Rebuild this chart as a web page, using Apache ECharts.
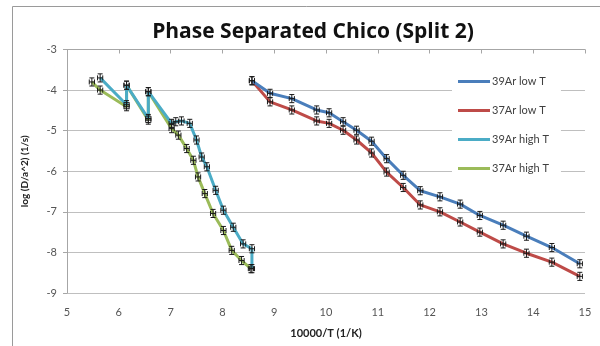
<!DOCTYPE html>
<html>
<head>
<meta charset="utf-8">
<script src="https://cdn.jsdelivr.net/npm/echarts@6/dist/echarts.min.js"></script>
<style>
  html, body { margin: 0; padding: 0; background: #fff; }
  #chart { width: 600px; height: 346px; }
</style>
</head>
<body>
<div id="chart"></div>
<script>
// values
var lowTX = [8.57, 8.92, 9.34, 9.82, 10.06, 10.33, 10.59, 10.88, 11.17, 11.49, 11.82, 12.20, 12.59, 12.97, 13.42, 13.87, 14.36, 14.90];
var ar39LowT = [-3.77, -4.08, -4.21, -4.49, -4.56, -4.78, -4.99, -5.26, -5.69, -6.10, -6.48, -6.63, -6.81, -7.09, -7.33, -7.60, -7.88, -8.28];
var ar37LowT = [-3.77, -4.29, -4.49, -4.76, -4.82, -4.99, -5.23, -5.55, -6.02, -6.40, -6.83, -7.00, -7.25, -7.50, -7.79, -8.02, -8.24, -8.59];

var ar39HighTX = [5.64, 6.15, 6.15, 6.57, 6.57, 7.02, 7.10, 7.21, 7.37, 7.50, 7.60, 7.70, 7.87, 8.02, 8.21, 8.40, 8.57, 8.57];
var ar39HighT = [-3.70, -4.36, -3.88, -4.70, -4.04, -4.82, -4.78, -4.76, -4.82, -5.23, -5.65, -5.89, -6.47, -6.96, -7.38, -7.79, -7.91, -8.40];
var ar37HighTX = [5.48, 5.64, 6.15, 6.15, 6.57, 6.57, 7.02, 7.15, 7.31, 7.44, 7.53, 7.66, 7.82, 8.02, 8.18, 8.37, 8.55];
var ar37HighT = [-3.80, -4.00, -4.41, -3.88, -4.74, -4.04, -4.95, -5.11, -5.44, -5.73, -6.14, -6.55, -7.04, -7.46, -7.95, -8.20, -8.40];

var seriesNames = ['39Ar low T', '37Ar low T', '39Ar high T', '37Ar high T'];
var seriesColors = ['#4A7EBB', '#BE4B48', '#4BACC6', '#9BBB59'];

// error bar half widths (data units)
var X_ERR = 0.05;
var Y_ERR = 0.1;

var FONT = 'Lato, "Open Sans", sans-serif';

var zip = function (xs, ys) {
  var out = [];
  for (var i = 0; i < xs.length; i++) out.push([xs[i], ys[i]]);
  return out;
};

var allData = [
  zip(lowTX, ar39LowT),
  zip(lowTX, ar37LowT),
  zip(ar39HighTX, ar39HighT),
  zip(ar37HighTX, ar37HighT)
];

var renderErrorBar = function (params, api) {
  var x = api.value(0), y = api.value(1);
  var c = api.coord([x, y]);
  var top = api.coord([x, y + Y_ERR]);
  var bot = api.coord([x, y - Y_ERR]);
  var lft = api.coord([x - X_ERR, y]);
  var rgt = api.coord([x + X_ERR, y]);
  var cap = 2.5;
  var st = { stroke: '#1a1a1a', lineWidth: 1 };
  var seg = function (x1, y1, x2, y2) {
    return { type: 'line', shape: { x1: x1, y1: y1, x2: x2, y2: y2 }, style: st };
  };
  return {
    type: 'group',
    children: [
      seg(c[0], top[1], c[0], bot[1]),
      seg(c[0] - cap, top[1], c[0] + cap, top[1]),
      seg(c[0] - cap, bot[1], c[0] + cap, bot[1]),
      seg(lft[0], c[1], rgt[0], c[1]),
      seg(lft[0], c[1] - cap, lft[0], c[1] + cap),
      seg(rgt[0], c[1] - cap, rgt[0], c[1] + cap)
    ]
  };
};

var series = [];
// draw high T first so low T sits on top like the reference
[3, 2, 1, 0].forEach(function (i) {
  series.push({
    name: seriesNames[i],
    type: 'line',
    data: allData[i],
    showSymbol: false,
    symbol: 'none',
    lineStyle: { color: seriesColors[i], width: 3 },
    itemStyle: { color: seriesColors[i] },
    z: 2
  });
  series.push({
    name: seriesNames[i] + ' err',
    type: 'custom',
    renderItem: renderErrorBar,
    encode: { x: 0, y: 1 },
    data: allData[i],
    z: 3,
    silent: true
  });
});

var chart = echarts.init(document.getElementById('chart'));
chart.setOption({
  animation: false,
  color: seriesColors,
  title: {
    text: 'Phase Separated Chico (Split 2)',
    left: 308,
    textAlign: 'center',
    top: 17,
    textStyle: { fontFamily: '"Open Sans", sans-serif', fontSize: 21, fontWeight: 'bold', color: '#111' }
  },
  graphic: [{
    type: 'rect',
    shape: { x: 12.5, y: 6.5, width: 620, height: 360 },
    style: { fill: 'none', stroke: '#9a9a9a', lineWidth: 1 },
    silent: true
  }],
  legend: {
    data: seriesNames,
    orient: 'vertical',
    left: 452,
    top: 70,
    padding: [6, 12, 6, 6],
    itemWidth: 32,
    itemHeight: 3,
    itemGap: 18,
    icon: 'rect',
    backgroundColor: '#fff',
    textStyle: { fontFamily: FONT, fontSize: 11, color: '#404040', padding: [0, 0, 0, -3] }
  },
  grid: { left: 67, right: 15, top: 49.5, bottom: 53 },
  xAxis: [{
    type: 'value',
    min: 5,
    max: 15,
    interval: 1,
    position: 'bottom',
    name: '10000/T (1/K)',
    nameLocation: 'middle',
    nameGap: 35,
    nameTextStyle: { fontFamily: FONT, fontSize: 11, fontWeight: 'bold', color: '#222' },
    axisLine: { show: false },
    axisTick: { show: false },
    splitLine: { show: false },
    axisLabel: { fontFamily: FONT, fontSize: 11, color: '#555', margin: 14 }
  }, {
    type: 'value',
    min: 5,
    max: 15,
    interval: 1,
    position: 'top',
    axisLine: { show: true, lineStyle: { color: '#a6a6a6' } },
    axisTick: { show: true, inside: true, length: 4, lineStyle: { color: '#a6a6a6' } },
    axisLabel: { show: false },
    splitLine: { show: false }
  }],
  yAxis: {
    type: 'value',
    min: -9,
    max: -3,
    interval: 1,
    name: 'log (D/a^2) (1/s)',
    nameLocation: 'middle',
    nameGap: 37,
    nameRotate: 90,
    nameTextStyle: { fontFamily: FONT, fontSize: 10, fontWeight: 'bold', color: '#222' },
    axisLine: { show: true, lineStyle: { color: '#a6a6a6' } },
    axisTick: { show: true, length: 4, lineStyle: { color: '#a6a6a6' } },
    splitLine: { lineStyle: { color: '#bfbfbf', width: 1 } },
    axisLabel: { fontFamily: FONT, fontSize: 11, color: '#555', margin: 10 }
  },
  series: series
});
</script>
</body>
</html>
